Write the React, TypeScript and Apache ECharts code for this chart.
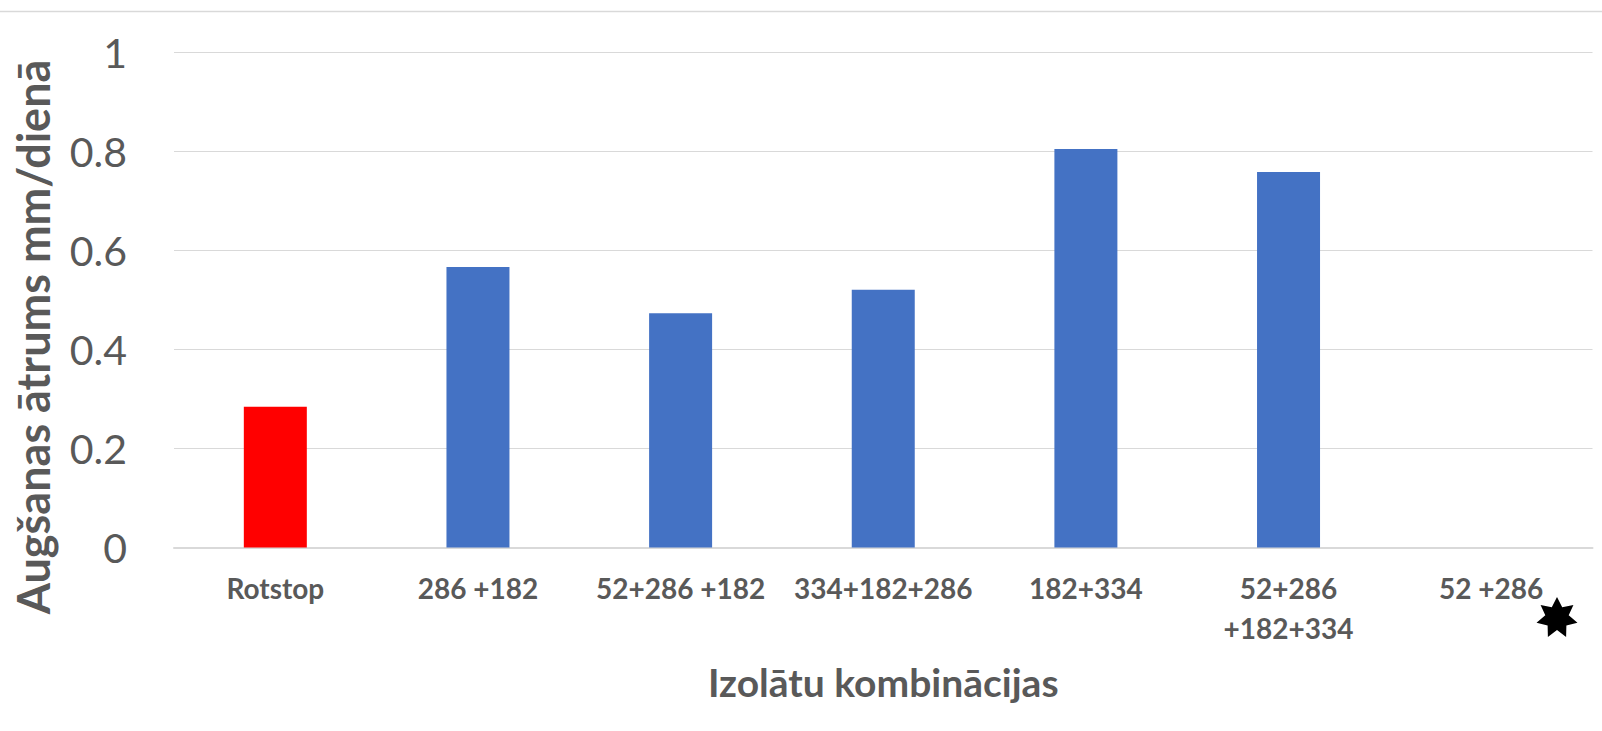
import React, { useEffect, useRef } from "react";
import * as echarts from "echarts";

const categories = [
  "Rotstop",
  "286 +182",
  "52+286 +182",
  "334+182+286",
  "182+334",
  "52+286\n+182+334",
  "52 +286",
];
const growthRates = [0.284, 0.566, 0.473, 0.52, 0.804, 0.758, 0];
const barColors = ["#FF0000", "#4472C4", "#4472C4", "#4472C4", "#4472C4", "#4472C4", "#4472C4"];
const yTicks = { min: 0, max: 1, interval: 0.2 };
const yAxisTitle = "Augšanas ātrums mm/dienā";
const xAxisTitle = "Izolātu kombinācijas";

function starPoints(cx: number, cy: number, rOuter: number, rInner: number, n: number) {
  const pts: number[][] = [];
  for (let i = 0; i < n * 2; i++) {
    const r = i % 2 === 0 ? rOuter : rInner;
    const a = -Math.PI / 2 + (i * Math.PI) / n;
    pts.push([cx + r * Math.cos(a), cy + r * Math.sin(a)]);
  }
  return pts;
}

export default function App() {
  const ref = useRef<HTMLDivElement>(null);
  useEffect(() => {
    if (!ref.current) return;
    const chart = echarts.init(ref.current, null, { renderer: "svg" });
    const font = "Lato, 'Open Sans', sans-serif";
    chart.setOption({
      animation: false,
      backgroundColor: "#ffffff",
      grid: { left: 174, right: 9.5, top: 52, bottom: 183.5, containLabel: false },
      xAxis: {
        type: "category",
        data: categories,
        axisLine: { show: true, lineStyle: { color: "#d9d9d9", width: 2 } },
        axisTick: { show: false },
        axisLabel: {
          interval: 0,
          color: "#595959",
          fontFamily: font,
          fontWeight: "bold",
          fontSize: 28,
          lineHeight: 40,
          margin: 20,
        },
        name: xAxisTitle,
        nameLocation: "middle",
        nameGap: 115,
        nameTextStyle: { color: "#595959", fontFamily: font, fontWeight: "bold", fontSize: 39 },
      },
      yAxis: {
        type: "value",
        min: yTicks.min,
        max: yTicks.max,
        interval: yTicks.interval,
        axisLine: { show: false },
        axisTick: { show: false },
        splitLine: { lineStyle: { color: "#d9d9d9", width: 1 } },
        axisLabel: {
          color: "#595959",
          fontFamily: font,
          fontSize: 41,
          margin: 47,
          formatter: (v: number) => String(Math.round(v * 10) / 10),
        },
      },
      series: [
        {
          type: "bar",
          barWidth: 63,
          data: growthRates.map((v, i) => ({ value: v, itemStyle: { color: barColors[i] } })),
        },
      ],
      graphic: [
        {
          type: "line",
          shape: { x1: 0, y1: 11.5, x2: 1602, y2: 11.5 },
          style: { stroke: "#d9d9d9", lineWidth: 1.5 },
          silent: true,
        },
        {
          type: "text",
          x: 33,
          y: 337,
          rotation: Math.PI / 2,
          style: {
            text: yAxisTitle,
            fill: "#595959",
            font: "bold 45px Lato, 'Open Sans', sans-serif",
            align: "center",
            verticalAlign: "middle",
          },
          silent: true,
        },
        {
          type: "polygon",
          shape: { points: starPoints(1557, 618, 21, 12, 7) },
          style: { fill: "#000000" },
          silent: true,
        },
      ],
    });
    return () => chart.dispose();
  }, []);
  return (
    <div
      ref={ref}
      style={{ position: "fixed", left: 0, top: 0, width: 1602, height: 731 }}
    />
  );
}
